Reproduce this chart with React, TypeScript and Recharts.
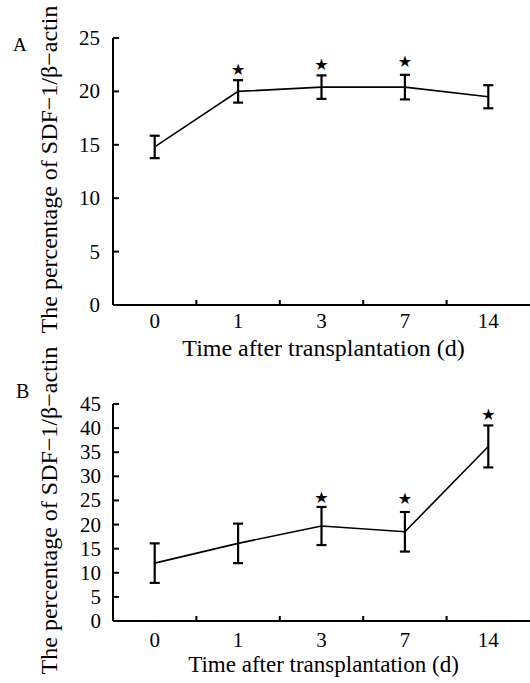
import { ComposedChart, Line, ErrorBar, XAxis, YAxis } from 'recharts'

const days = ['0', '1', '3', '7', '14']
const meanA = [14.8, 20.0, 20.4, 20.4, 19.5]
const errA = [1.05, 1.05, 1.1, 1.15, 1.08]
const starA = [null, 22.1, 22.6, 22.8, null]
const meanB = [12.0, 16.1, 19.7, 18.5, 36.2]
const errB = [4.1, 4.1, 3.95, 4.1, 4.35]
const starB = [null, null, 25.8, 25.5, 42.9]
const yTicksA = [0, 5, 10, 15, 20, 25]
const yTicksB = [0, 5, 10, 15, 20, 25, 30, 35, 40, 45]

const SERIF = 'Liberation Serif, Times New Roman, DejaVu Serif, serif'
const serifStyle = { fontFamily: SERIF }
const HALF_BAND = 41.7

const build = (mean: number[], err: number[], star: (number | null)[]) =>
  days.map((d, i) => ({ day: d, mean: mean[i], err: err[i], star: star[i] }))

const XTick = ({ x, y, payload, index, labelDy }: any) => (
  <g>
    <text x={x} y={y + labelDy} textAnchor="middle" fontSize={21} style={serifStyle} fill="#000">
      {payload.value}
    </text>
    {index < days.length - 1 && (
      <line x1={x + HALF_BAND} x2={x + HALF_BAND} y1={y} y2={y - 5} stroke="#000" strokeWidth={2} />
    )}
  </g>
)

const YTick = ({ x, y, payload, gap }: any) => (
  <g>
    <text x={x - gap} y={y + 7} textAnchor="end" fontSize={21} style={serifStyle} fill="#000">
      {payload.value}
    </text>
    <line x1={x} x2={x + 6} y1={y} y2={y} stroke="#000" strokeWidth={2} />
  </g>
)

const StarDot = ({ cx, cy, value, index }: any) => {
  if (value == null || cy == null) return <g key={index} />
  return (
    <text key={index} x={cx} y={cy + 6} textAnchor="middle" fontSize={16} style={{ fontFamily: 'DejaVu Sans' }} fill="#000">
      ★
    </text>
  )
}

function Panel({ data, ticks, max, height, top, axisH, tickDy, gap, titleDy, titleSize }: any) {
  return (
    <ComposedChart width={530} height={height} data={data} margin={{ top, right: 0, bottom: 0, left: 0 }}>
      <XAxis
        dataKey="day"
        height={axisH}
        padding={{ left: HALF_BAND, right: HALF_BAND }}
        axisLine={{ stroke: '#000', strokeWidth: 2 }}
        tickLine={false}
        tickSize={0}
        tickMargin={0}
        interval={0}
        tick={<XTick labelDy={tickDy} />}
        label={{
          content: ({ viewBox }: any) => (
            <text x={viewBox.x + viewBox.width / 2 + 2} y={viewBox.y + titleDy} textAnchor="middle" fontSize={titleSize} style={serifStyle} fill="#000">
              Time after transplantation (d)
            </text>
          ),
        }}
      />
      <YAxis
        width={113}
        domain={[0, max]}
        ticks={ticks}
        interval={0}
        axisLine={{ stroke: '#000', strokeWidth: 2 }}
        tickLine={false}
        tickSize={0}
        tickMargin={0}
        tick={<YTick gap={gap} />}
        label={{
          content: ({ viewBox }: any) => {
            const cx = 56.5
            const cy = viewBox.y + viewBox.height / 2 - 2
            return (
              <text x={cx} y={cy} transform={`rotate(-90 ${cx} ${cy})`} textAnchor="middle" fontSize={24} style={serifStyle} fill="#000">
                The percentage of SDF−1/β−actin
              </text>
            )
          },
        }}
      />
      <Line type="linear" dataKey="mean" stroke="#000" strokeWidth={1.6} dot={false} activeDot={false} isAnimationActive={false}>
        <ErrorBar dataKey="err" direction="y" width={5} stroke="#000" strokeWidth={2.2} isAnimationActive={false} />
      </Line>
      <Line type="linear" dataKey="star" stroke="none" dot={<StarDot />} activeDot={false} isAnimationActive={false} />
    </ComposedChart>
  )
}

export default function App() {
  return (
    <div style={{ position: 'absolute', left: 0, top: 0, width: 530, height: 683, background: '#fff', overflow: 'hidden' }}>
      <div style={{ position: 'absolute', left: 13, top: 35, fontFamily: SERIF, fontSize: 19, lineHeight: 1 }}>A</div>
      <div style={{ position: 'absolute', left: 16, top: 381, fontFamily: SERIF, fontSize: 20, lineHeight: 1 }}>B</div>
      <div style={{ position: 'absolute', left: 0, top: 0 }}>
        <Panel data={build(meanA, errA, starA)} ticks={yTicksA} max={25} height={372} top={38} axisH={67} tickDy={23} gap={13} titleDy={51} titleSize={24} />
      </div>
      <div style={{ position: 'absolute', left: 0, top: 340 }}>
        <Panel data={build(meanB, errB, starB)} ticks={yTicksB} max={45} height={343} top={64} axisH={62} tickDy={26} gap={12} titleDy={51} titleSize={23} />
      </div>
    </div>
  )
}
